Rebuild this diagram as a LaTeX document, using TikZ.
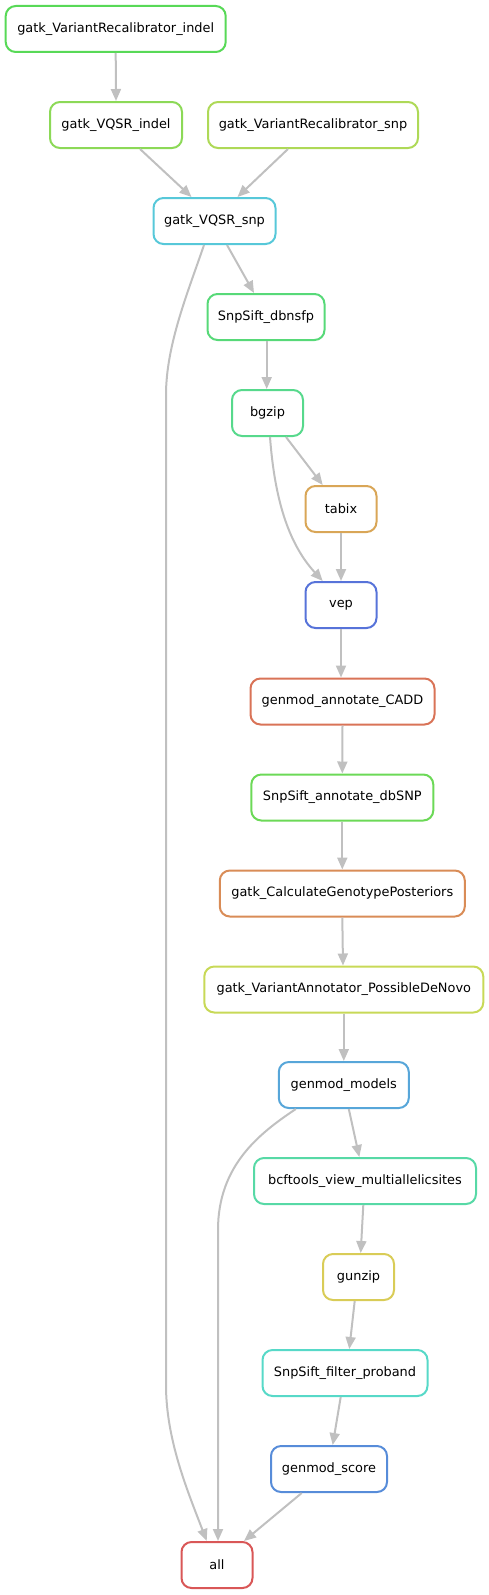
\documentclass[tikz,border=0pt]{standalone}
\usepackage{fontspec}
\setmainfont{DejaVu Sans}
\usetikzlibrary{arrows.meta}
\definecolor{cA}{RGB}{88,217,87}
\definecolor{cB}{RGB}{140,217,87}
\definecolor{cC}{RGB}{174,217,87}
\definecolor{cD}{RGB}{87,200,217}
\definecolor{cE}{RGB}{87,217,120}
\definecolor{cF}{RGB}{87,217,140}
\definecolor{cG}{RGB}{217,166,87}
\definecolor{cH}{RGB}{87,115,217}
\definecolor{cI}{RGB}{217,115,87}
\definecolor{cJ}{RGB}{108,217,87}
\definecolor{cK}{RGB}{217,140,87}
\definecolor{cL}{RGB}{200,217,87}
\definecolor{cM}{RGB}{87,166,217}
\definecolor{cN}{RGB}{87,217,166}
\definecolor{cO}{RGB}{217,204,87}
\definecolor{cP}{RGB}{87,217,200}
\definecolor{cQ}{RGB}{87,140,217}
\definecolor{cR}{RGB}{217,87,87}
\definecolor{edgegray}{RGB}{192,192,192}
\tikzset{
  rule/.style={draw=#1, line width=2pt, rounded corners=10pt, fill=white,
    minimum height=46pt, inner sep=0pt, font=\fontsize{12.9}{15}\selectfont},
  link/.style={draw=edgegray, line width=2pt, -{Triangle[length=12pt,width=10pt]}}
}
\begin{document}
\begin{tikzpicture}[x=1pt,y=-1pt]
\useasboundingbox (0,0) rectangle (489,1595);
\node[rule=cA, minimum width=220pt] (recalindel) at (115.7,29) {gatk\_VariantRecalibrator\_indel};
\node[rule=cB, minimum width=132pt] (vqsrindel) at (116,125) {gatk\_VQSR\_indel};
\node[rule=cC, minimum width=210pt] (recalsnp) at (313,125) {gatk\_VariantRecalibrator\_snp};
\node[rule=cD, minimum width=122pt] (vqsrsnp) at (214.5,221) {gatk\_VQSR\_snp};
\node[rule=cE, minimum width=117pt] (dbnsfp) at (266,317) {SnpSift\_dbnsfp};
\node[rule=cF, minimum width=71pt] (bgzip) at (267.5,413) {bgzip};
\node[rule=cG, minimum width=71pt] (tabix) at (341,509) {tabix};
\node[rule=cH, minimum width=71pt] (vep) at (341,605) {vep};
\node[rule=cI, minimum width=184pt] (cadd) at (342.5,701.5) {genmod\_annotate\_CADD};
\node[rule=cJ, minimum width=182pt] (dbsnp) at (342.3,797.5) {SnpSift\_annotate\_dbSNP};
\node[rule=cK, minimum width=245pt] (cgp) at (342.3,893.5) {gatk\_CalculateGenotypePosteriors};
\node[rule=cL, minimum width=279pt] (denovo) at (343.8,989.5) {gatk\_VariantAnnotator\_PossibleDeNovo};
\node[rule=cM, minimum width=130pt] (models) at (343.8,1085) {genmod\_models};
\node[rule=cN, minimum width=222pt] (bcftools) at (365,1181) {bcftools\_view\_multiallelicsites};
\node[rule=cO, minimum width=71pt] (gunzip) at (358.5,1277) {gunzip};
\node[rule=cP, minimum width=165pt] (filter) at (345,1373) {SnpSift\_filter\_proband};
\node[rule=cQ, minimum width=116pt] (score) at (329,1469) {genmod\_score};
\node[rule=cR, minimum width=71pt] (all) at (217,1565) {all};

\draw[link] (recalindel.south) -- (vqsrindel.north);
\draw[link] ([xshift=24pt]vqsrindel.south) -- ([xshift=-23pt]vqsrsnp.north);
\draw[link] ([xshift=-25pt]recalsnp.south) -- ([xshift=23pt]vqsrsnp.north);
\draw[link] ([xshift=12.5pt]vqsrsnp.south) -- ([xshift=-12pt]dbnsfp.north);
\draw[link] ([xshift=0.7pt]dbnsfp.south) -- ([xshift=-0.8pt]bgzip.north);
\draw[link] ([xshift=18.5pt]bgzip.south) -- ([xshift=-18.3pt]tabix.north);
\draw[link] ([xshift=2.5pt]bgzip.south) .. controls +(4,53) and +(-37.7,-41) .. ([xshift=-18.3pt]vep.north);
\draw[link] (tabix.south) -- (vep.north);
\draw[link] (vep.south) -- ([xshift=-1.5pt]cadd.north);
\draw[link] (cadd.south) -- (dbsnp.north);
\draw[link] (dbsnp.south) -- (cgp.north);
\draw[link] (cgp.south) -- ([xshift=-0.8pt]denovo.north);
\draw[link] (denovo.south) -- (models.north);
\draw[link] ([xshift=5pt]models.south) -- ([xshift=-5.7pt]bcftools.north);
\draw[link] ([xshift=-1.7pt]bcftools.south) -- ([xshift=2.2pt]gunzip.north);
\draw[link] ([xshift=-3.8pt]gunzip.south) -- ([xshift=4.3pt]filter.north);
\draw[link] ([xshift=-4.3pt]filter.south) -- ([xshift=3.7pt]score.north);
\draw[link] ([xshift=-27.3pt]score.south) -- ([xshift=27pt]all.north);
\draw[link] ([xshift=-10.5pt]vqsrsnp.south) .. controls (188,292) and (166,345) .. (166,395)
  -- (166,1385) .. controls (166,1440) and (188,1492) .. ([xshift=-10.3pt]all.north);
\draw[link] ([xshift=-48pt]models.south) .. controls (260,1133) and (218,1165) .. (218,1230)
  -- ([xshift=1pt]all.north);
\end{tikzpicture}
\end{document}
